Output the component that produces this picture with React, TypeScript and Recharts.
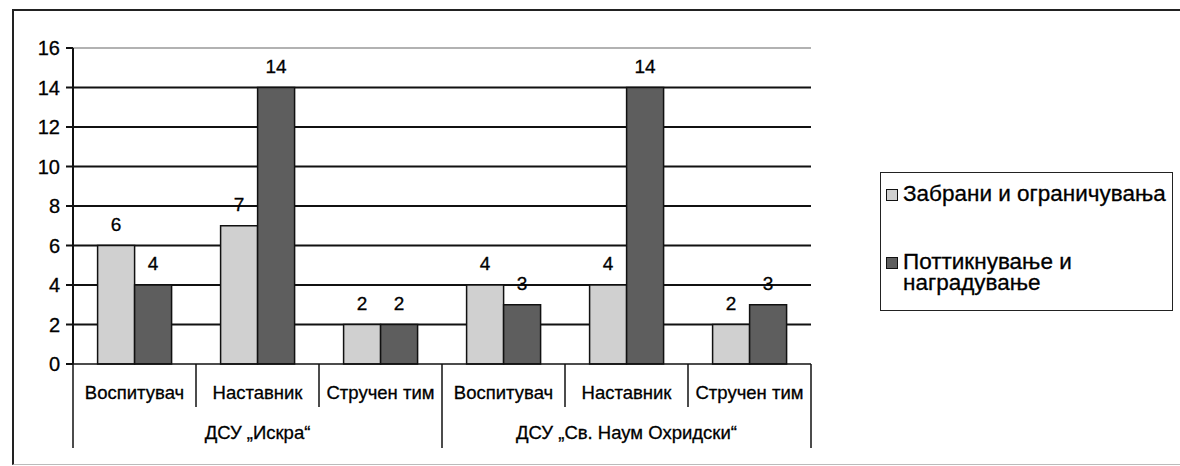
import { Bar, BarChart, CartesianGrid, LabelList, ReferenceLine, XAxis, YAxis } from "recharts";

const roles = ["Воспитувач", "Наставник", "Стручен тим", "Воспитувач", "Наставник", "Стручен тим"];
const schools = ["ДСУ „Искра“", "ДСУ „Искра“", "ДСУ „Искра“", "ДСУ „Св. Наум Охридски“", "ДСУ „Св. Наум Охридски“", "ДСУ „Св. Наум Охридски“"];
const restrictions = [6, 7, 2, 4, 4, 2];
const encouragement = [4, 14, 2, 3, 14, 3];
const yTicks = [0, 2, 4, 6, 8, 10, 12, 14, 16];

const seriesNames = ["Забрани и ограничувања", "Поттикнување и наградување"];
const seriesColors = ["#d0d0d0", "#5e5e5e"];

const data = roles.map((role, i) => ({
  key: `${i}`,
  role,
  school: schools[i],
  restrictions: restrictions[i],
  encouragement: encouragement[i],
}));

const FONT = '"Liberation Sans", Arial, sans-serif';

function CategoryTick(props: any) {
  const { x, y, payload } = props;
  const i = payload.index;
  const half = payload.offset || 61.5;
  const row = data[i];
  const groupStart = i % 3 === 0;
  const groupEnd = i === data.length - 1;
  return (
    <g>
      <line x1={x - half} y1={y} x2={x - half} y2={y + (groupStart ? 84 : 43)} stroke="#111" strokeWidth={1.5} />
      {groupEnd && <line x1={x + half} y1={y} x2={x + half} y2={y + 84} stroke="#111" strokeWidth={1.5} />}
      <text x={x} y={y + 35} textAnchor="middle" fontSize={18.5} fontFamily={FONT} fill="#000" stroke="#000" strokeWidth={0.3}>
        {row.role}
      </text>
      {i % 3 === 1 && (
        <text x={x} y={y + 75} textAnchor="middle" fontSize={18.5} fontFamily={FONT} fill="#000" stroke="#000" strokeWidth={0.3}>
          {row.school}
        </text>
      )}
    </g>
  );
}

function LegendBox() {
  return (
    <div
      style={{
        position: "absolute",
        left: 880,
        top: 172,
        width: 293,
        height: 139,
        border: "1.5px solid #222",
        fontFamily: FONT,
        fontSize: 22.5,
        color: "#000",
        boxSizing: "border-box",
        padding: "10px 0 0 5px",
        lineHeight: "21px",
        whiteSpace: "normal",
      }}
    >
      {seriesNames.map((name, idx) => (
        <div key={name} style={{ display: "flex", alignItems: "flex-start", marginTop: idx === 0 ? 0 : 47 }}>
          <span
            style={{
              display: "inline-block",
              width: 10,
              height: 10,
              marginTop: 6,
              marginRight: 5,
              background: seriesColors[idx],
              border: "1.5px solid #111",
              flex: "none",
            }}
          />
          <span style={{ width: 272, WebkitTextStroke: "0.3px #000" }}>{name}</span>
        </div>
      ))}
    </div>
  );
}

export default function App() {
  return (
    <div style={{ position: "absolute", left: 0, top: 0, width: 1180, height: 466, background: "#fff", overflow: "hidden" }}>
      <div
        style={{
          position: "absolute",
          left: 12,
          top: 9,
          width: 1180,
          height: 453,
          borderLeft: "2px solid #222",
          borderTop: "2px solid #222",
          borderBottom: "1px solid #bbb",
        }}
      />
      <BarChart
        width={1180}
        height={466}
        data={data}
        margin={{ top: 48, right: 369, bottom: 57, left: 13 }}
        barCategoryGap="20%"
        barGap={0}
        style={{ position: "absolute", left: 0, top: 0 }}
      >
        <CartesianGrid vertical={false} horizontalValues={[2, 4, 6, 8, 10, 12, 14]} stroke="#111" strokeWidth={1.8} />
        <ReferenceLine y={16} stroke="#999" strokeWidth={1.5} />
        <XAxis
          dataKey="key"
          type="category"
          height={45}
          tickLine={false}
          tickSize={0}
          tickMargin={0}
          axisLine={{ stroke: "#111", strokeWidth: 1.5 }}
          tick={<CategoryTick />}
          interval={0}
        />
        <YAxis
          domain={[0, 16]}
          ticks={yTicks}
          interval={0}
          width={60}
          tickSize={7}
          tickMargin={6}
          axisLine={{ stroke: "#111", strokeWidth: 2 }}
          tickLine={{ stroke: "#111", strokeWidth: 2 }}
          tick={{ fill: "#000", stroke: "#000", strokeWidth: 0.3, fontSize: 20, fontFamily: FONT }}
        />
        <YAxis
          yAxisId="right"
          orientation="right"
          domain={[0, 16]}
          width={0}
          tick={false}
          tickLine={false}
          axisLine={{ stroke: "#999", strokeWidth: 2 }}
        />
        <Bar dataKey="restrictions" name={seriesNames[0]} fill={seriesColors[0]} stroke="#111" strokeWidth={1.5} isAnimationActive={false}>
          <LabelList dataKey="restrictions" position="top" offset={15} fill="#000" stroke="#000" strokeWidth={0.3} fontSize={19} fontFamily={FONT} />
        </Bar>
        <Bar dataKey="encouragement" name={seriesNames[1]} fill={seriesColors[1]} stroke="#111" strokeWidth={1.5} isAnimationActive={false}>
          <LabelList dataKey="encouragement" position="top" offset={15} fill="#000" stroke="#000" strokeWidth={0.3} fontSize={19} fontFamily={FONT} />
        </Bar>
      </BarChart>
      <LegendBox />
    </div>
  );
}
